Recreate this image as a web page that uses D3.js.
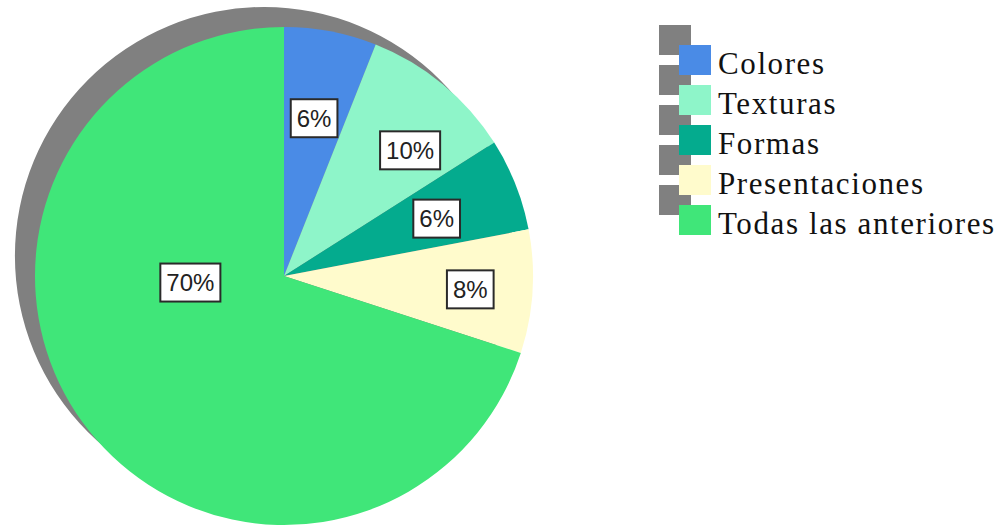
<!DOCTYPE html>
<html>
<head>
<meta charset="utf-8">
<script src="https://cdn.jsdelivr.net/npm/d3@7"></script>
<style>
  html, body { margin: 0; padding: 0; background: #fff; }
  svg { display: block; }
</style>
</head>
<body>
<svg id="chart" width="1004" height="529"></svg>
<script>
// Categories and their shares (percent)
const categories = ["Colores", "Texturas", "Formas", "Presentaciones", "Todas las anteriores"];
const values = [6, 10, 6, 8, 70];
const labels = ["6%", "10%", "6%", "8%", "70%"];
const colors = ["#4a8be6", "#8ef5c9", "#04ab8e", "#fffbcc", "#40e679"];

// Label anchors: radius fraction of the pie and an angular nudge (degrees)
const labelPlacement = [
  { r: 0.645, turn: 0 },
  { r: 0.715, turn: 5.5 },
  { r: 0.655, turn: 1 },
  { r: 0.75, turn: 0.5 },
  { r: 0.377, turn: 32 }
];

const width = 1004, height = 529;
const cx = 284, cy = 276, R = 249;
const shadowDx = -20, shadowDy = -20;
const shadowColor = "#808080";

const svg = d3.select("#chart");

const pie = d3.pie().sort(null).value(d => d).startAngle(0).endAngle(2 * Math.PI);
const arcs = pie(values);
const arc = d3.arc().innerRadius(0).outerRadius(R);

const g = svg.append("g").attr("transform", `translate(${cx},${cy})`);

// Drop shadow behind the pie
g.append("path")
  .attr("d", d3.arc().innerRadius(0).outerRadius(R)({ startAngle: 0, endAngle: 2 * Math.PI }))
  .attr("transform", `translate(${shadowDx},${shadowDy})`)
  .attr("fill", shadowColor);

// Slices
g.selectAll("path.slice")
  .data(arcs)
  .enter()
  .append("path")
  .attr("class", "slice")
  .attr("d", arc)
  .attr("fill", (d, i) => colors[i]);

// Percentage labels in boxed tags
const labelG = g.selectAll("g.lbl")
  .data(arcs)
  .enter()
  .append("g")
  .attr("class", "lbl")
  .attr("transform", (d, i) => {
    const p = labelPlacement[i];
    const a = (d.startAngle + d.endAngle) / 2 + p.turn * Math.PI / 180;
    const rr = p.r * R;
    return `translate(${rr * Math.sin(a)},${-rr * Math.cos(a)})`;
  });

labelG.append("text")
  .attr("text-anchor", "middle")
  .attr("dy", "0.36em")
  .style("font-family", "'Liberation Sans', Arial, sans-serif")
  .style("font-size", "24px")
  .attr("fill", "#222")
  .text((d, i) => labels[i]);

labelG.each(function() {
  const grp = d3.select(this);
  const bb = grp.select("text").node().getBBox();
  const padX = 6;
  grp.insert("rect", "text")
    .attr("x", bb.x - padX)
    .attr("y", -19)
    .attr("width", bb.width + 2 * padX)
    .attr("height", 38)
    .attr("fill", "#fff")
    .attr("stroke", "#2a2a2a")
    .attr("stroke-width", 2);
});

// Legend
const legX = 679, legY = 45, rowH = 40, sw = 32, sh = 30;
const legend = svg.append("g");

legend.selectAll("rect.shadow")
  .data(categories)
  .enter()
  .append("rect")
  .attr("class", "shadow")
  .attr("x", legX + shadowDx)
  .attr("y", (d, i) => legY + i * rowH + shadowDy)
  .attr("width", sw)
  .attr("height", sh)
  .attr("fill", shadowColor);

legend.selectAll("rect.swatch")
  .data(categories)
  .enter()
  .append("rect")
  .attr("class", "swatch")
  .attr("x", legX)
  .attr("y", (d, i) => legY + i * rowH)
  .attr("width", sw)
  .attr("height", sh)
  .attr("fill", (d, i) => colors[i]);

legend.selectAll("text")
  .data(categories)
  .enter()
  .append("text")
  .attr("x", 718)
  .attr("y", (d, i) => legY + 29 + i * rowH)
  .style("font-family", "'Liberation Serif', 'Times New Roman', serif")
  .style("font-size", "31px")
  .style("letter-spacing", "1.6px")
  .attr("fill", "#111")
  .text(d => d);
</script>
</body>
</html>
